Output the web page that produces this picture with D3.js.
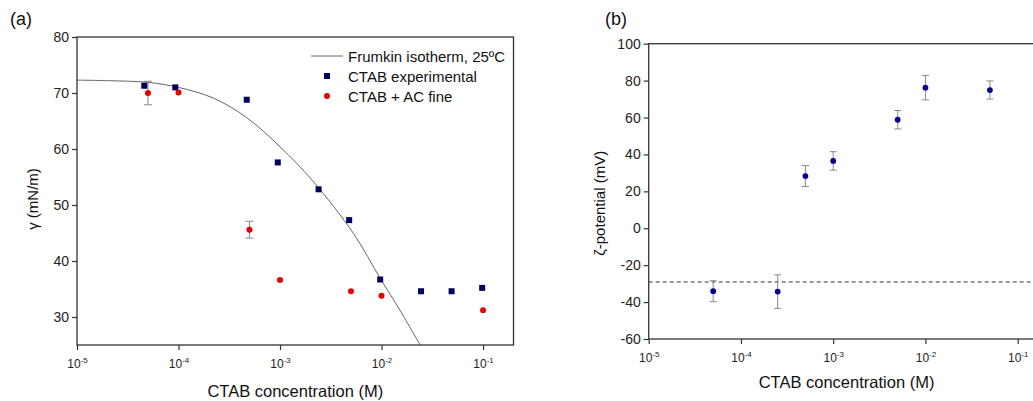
<!DOCTYPE html>
<html>
<head>
<meta charset="utf-8">
<script src="https://cdn.jsdelivr.net/npm/d3@7"></script>
<style>
  body { margin: 0; background: #fff; }
  svg { font-family: "Liberation Sans", Arial, sans-serif; }
  .tick line { stroke: #333; }
</style>
</head>
<body>
<div id="chart"></div>
<script>
// panel (a): surface tension
const concBlue = [4.6e-5, 9.3e-5, 4.7e-4, 9.5e-4, 2.4e-3, 4.8e-3, 9.7e-3, 2.45e-2, 4.9e-2, 9.8e-2]
const gammaBlue = [71.3, 71.0, 68.8, 57.6, 52.8, 47.3, 36.7, 34.6, 34.6, 35.2]
const concRed = [5e-5, 1e-4, 5e-4, 1e-3, 5e-3, 1e-2, 1e-1]
const gammaRed = [70.0, 70.1, 45.6, 36.6, 34.6, 33.8, 31.2]
const errRed = [2.1, 0.3, 1.5, 0, 0, 0, 0]
// Frumkin isotherm line
const concFit = [1e-5, 2e-5, 5e-5, 1e-4, 2.2e-4, 4.7e-4, 1e-3, 2.1e-3, 5.3e-3, 9.7e-3, 1.52e-2, 2.4e-2]
const gammaFit = [72.3, 72.2, 71.9, 71.0, 69.1, 65.6, 60.4, 54.3, 44.9, 36.9, 31.2, 25.0]
const gammaTicks = [30, 40, 50, 60, 70, 80]
const legendLabels = ["Frumkin isotherm, 25ºC", "CTAB experimental", "CTAB + AC fine"]

// panel (b): zeta potential
const concZeta = [5e-5, 2.5e-4, 5e-4, 1e-3, 5e-3, 1e-2, 5e-2]
const zeta = [-34.1, -34.3, 28.3, 36.5, 58.8, 76.2, 74.9]
const zetaErr = [5.7, 9.1, 5.7, 5.0, 5.0, 6.6, 4.9]
const zetaRef = -29.1
const zetaTicks = [-60, -40, -20, 0, 20, 40, 60, 80, 100]

const concTicks = [1e-5, 1e-4, 1e-3, 1e-2, 1e-1]

const width = 1033, height = 401
const axisColor = "#333"
const errColor = "#8a8a8a"

let svg = d3.select("#chart").append("svg")
    .attr("width", width)
    .attr("height", height)

function logTicks(g, scale, y) {
  let axis = d3.axisBottom(scale).tickValues(concTicks).tickSize(5).tickSizeOuter(0).tickFormat("")
  let ax = g.append("g").attr("transform", `translate(0,${y})`).call(axis)
  ax.select(".domain").remove()
  ax.selectAll(".tick line").attr("stroke", axisColor).attr("stroke-width", 1.2)
  ax.selectAll(".tick").each(function(d) {
    let t = d3.select(this).append("text")
      .attr("y", 23)
      .attr("text-anchor", "middle")
      .attr("fill", "#222")
      .style("font-size", "12px")
    t.append("tspan").text("10")
    t.append("tspan").text(Math.round(Math.log10(d)))
      .attr("dy", -5).style("font-size", "8px")
  })
}

function yTicks(g, scale, x, vals) {
  let axis = d3.axisLeft(scale).tickValues(vals).tickSize(5).tickSizeOuter(0).tickPadding(3).tickFormat(d => String(d))
  let ax = g.append("g").attr("transform", `translate(${x},0)`).call(axis)
  ax.select(".domain").remove()
  ax.selectAll(".tick line").attr("stroke", axisColor).attr("stroke-width", 1.2)
  ax.selectAll(".tick text").attr("fill", "#222").style("font-size", "14px")
}

// ---------- panel (a) ----------
const A = { left: 77, top: 37, right: 513.5, bottom: 345 }
let xA = d3.scaleLog().domain([1e-5, Math.pow(10, -0.7)]).range([A.left, A.right])
let yA = d3.scaleLinear().domain([25, 80]).range([A.bottom, A.top])

let gA = svg.append("g")

gA.append("defs").append("clipPath").attr("id", "clipA")
  .append("rect").attr("x", A.left).attr("y", A.top)
  .attr("width", A.right - A.left).attr("height", A.bottom - A.top)

yTicks(gA, yA, A.left, gammaTicks)
logTicks(gA, xA, A.bottom)

let fitData = concFit.map((c, i) => [c, gammaFit[i]])
gA.append("path")
  .datum(fitData)
  .attr("clip-path", "url(#clipA)")
  .attr("fill", "none")
  .attr("stroke", "#666")
  .attr("stroke-width", 1)
  .attr("d", d3.line().x(d => xA(d[0])).y(d => yA(d[1])).curve(d3.curveCatmullRom.alpha(0.5)))

let redData = concRed.map((c, i) => ({ c: c, v: gammaRed[i], e: errRed[i] }))
let blueData = concBlue.map((c, i) => ({ c: c, v: gammaBlue[i] }))

// error bars for red points
let ebA = gA.append("g").selectAll("g").data(redData.filter(d => d.e > 0.5)).enter().append("g")
  .attr("stroke", errColor).attr("stroke-width", 1)
ebA.append("line").attr("x1", d => xA(d.c)).attr("x2", d => xA(d.c))
  .attr("y1", d => yA(d.v + d.e)).attr("y2", d => yA(d.v - d.e))
ebA.append("line").attr("x1", d => xA(d.c) - 4).attr("x2", d => xA(d.c) + 4)
  .attr("y1", d => yA(d.v + d.e)).attr("y2", d => yA(d.v + d.e))
ebA.append("line").attr("x1", d => xA(d.c) - 4).attr("x2", d => xA(d.c) + 4)
  .attr("y1", d => yA(d.v - d.e)).attr("y2", d => yA(d.v - d.e))

gA.append("g").selectAll("rect").data(blueData).enter().append("rect")
  .attr("x", d => xA(d.c) - 3)
  .attr("y", d => yA(d.v) - 3)
  .attr("width", 6).attr("height", 6)
  .attr("fill", "#00005e")

gA.append("g").selectAll("circle").data(redData).enter().append("circle")
  .attr("cx", d => xA(d.c))
  .attr("cy", d => yA(d.v))
  .attr("r", 3)
  .attr("fill", "#e80000")

// frame
gA.append("rect")
  .attr("x", A.left).attr("y", A.top)
  .attr("width", A.right - A.left).attr("height", A.bottom - A.top)
  .attr("fill", "none").attr("stroke", axisColor).attr("stroke-width", 1.3)

// legend
let leg = gA.append("g").style("font-size", "15px").attr("fill", "#111")
leg.append("line").attr("x1", 311).attr("x2", 343).attr("y1", 56).attr("y2", 56)
  .attr("stroke", "#666").attr("stroke-width", 1)
leg.append("rect").attr("x", 324).attr("y", 73).attr("width", 6).attr("height", 6).attr("fill", "#00005e")
leg.append("circle").attr("cx", 327).attr("cy", 96).attr("r", 3).attr("fill", "#e80000")
legendLabels.forEach((l, i) => {
  leg.append("text").attr("x", 348).attr("y", 61.5 + i * 20).text(l)
})

gA.append("text").attr("x", 10).attr("y", 25).style("font-size", "18px").attr("fill", "#111").text("(a)")
gA.append("text")
  .attr("transform", `translate(38,${(A.top + A.bottom) / 2 + 8}) rotate(-90)`)
  .attr("text-anchor", "middle").style("font-size", "15px").attr("fill", "#111")
  .text("γ (mN/m)")
gA.append("text")
  .attr("x", (A.left + A.right) / 2).attr("y", 396.5)
  .attr("text-anchor", "middle").style("font-size", "16.5px").attr("fill", "#111")
  .text("CTAB concentration (M)")

// ---------- panel (b) ----------
const B = { left: 648.7, top: 43.7, bottom: 339 }
let xB = d3.scaleLog().domain([1e-5, Math.pow(10, -0.6)]).range([B.left, B.left + 4.4 * 92.25])
let yB = d3.scaleLinear().domain([-60, 100]).range([B.bottom, B.top])
B.right = xB.range()[1]

let gB = svg.append("g")
yTicks(gB, yB, B.left, zetaTicks)
logTicks(gB, xB, B.bottom)

gB.append("line")
  .attr("x1", B.left).attr("x2", B.right)
  .attr("y1", yB(zetaRef)).attr("y2", yB(zetaRef))
  .attr("stroke", "#333").attr("stroke-width", 1).attr("stroke-dasharray", "4,3")

let zData = concZeta.map((c, i) => ({ c: c, v: zeta[i], e: zetaErr[i] }))
let ebB = gB.append("g").selectAll("g").data(zData).enter().append("g")
  .attr("stroke", errColor).attr("stroke-width", 1)
ebB.append("line").attr("x1", d => xB(d.c)).attr("x2", d => xB(d.c))
  .attr("y1", d => yB(d.v + d.e)).attr("y2", d => yB(d.v - d.e))
ebB.append("line").attr("x1", d => xB(d.c) - 3.5).attr("x2", d => xB(d.c) + 3.5)
  .attr("y1", d => yB(d.v + d.e)).attr("y2", d => yB(d.v + d.e))
ebB.append("line").attr("x1", d => xB(d.c) - 3.5).attr("x2", d => xB(d.c) + 3.5)
  .attr("y1", d => yB(d.v - d.e)).attr("y2", d => yB(d.v - d.e))

gB.append("g").selectAll("circle").data(zData).enter().append("circle")
  .attr("cx", d => xB(d.c))
  .attr("cy", d => yB(d.v))
  .attr("r", 2.9)
  .attr("fill", "#00008c")

gB.append("rect")
  .attr("x", B.left).attr("y", B.top)
  .attr("width", B.right - B.left).attr("height", B.bottom - B.top)
  .attr("fill", "none").attr("stroke", axisColor).attr("stroke-width", 1.3)

gB.append("text").attr("x", 605).attr("y", 25).style("font-size", "18px").attr("fill", "#111").text("(b)")
gB.append("text")
  .attr("transform", `translate(605,${(B.top + B.bottom) / 2 + 12}) rotate(-90)`)
  .attr("text-anchor", "middle").style("font-size", "15px").attr("fill", "#111")
  .text("ζ-potential (mV)")
gB.append("text")
  .attr("x", 846.5).attr("y", 388)
  .attr("text-anchor", "middle").style("font-size", "16.5px").attr("fill", "#111")
  .text("CTAB concentration (M)")
</script>
</body>
</html>
